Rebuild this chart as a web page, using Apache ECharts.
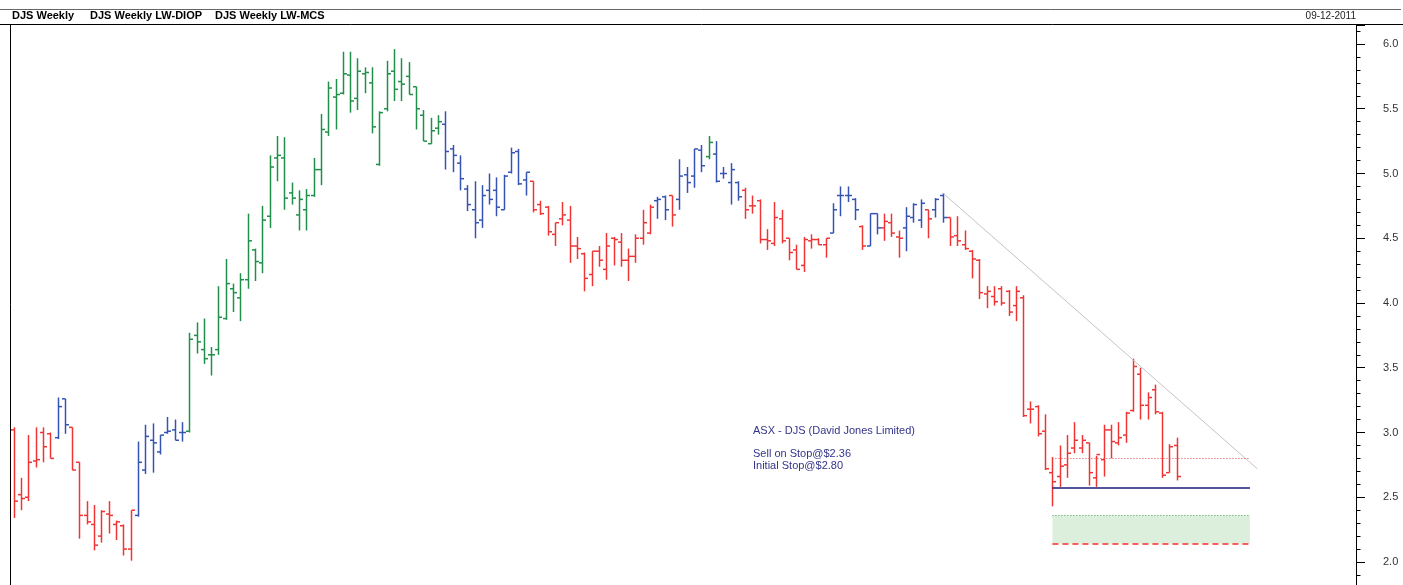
<!DOCTYPE html>
<html><head><meta charset="utf-8">
<script src="https://cdn.jsdelivr.net/npm/echarts@6/dist/echarts.min.js"></script>
<style>html,body{margin:0;padding:0;background:#fff}#c{width:1403px;height:585px}</style>
</head><body><div id="c"></div>
<script>
// Weekly OHLC, DJS, last bar = week of 09-12-2011
const opens = [3.02,2.52,2.50,2.78,3.00,2.99,2.96,3.26,3.04,2.77,2.36,2.29,2.20,2.37,2.29,2.28,2.10,2.36,2.71,2.94,
2.85,3.00,3.02,3.00,3.01,3.75,3.64,3.60,3.64,3.88,4.11,4.04,4.18,4.41,4.31,4.67,5.12,5.12,4.85,4.68,
4.72,4.83,5.03,5.32,5.59,5.62,5.76,5.58,5.77,5.70,5.07,5.50,5.79,5.71,5.75,5.67,5.45,5.23,5.35,5.38,
5.19,5.08,4.88,4.72,4.64,4.87,4.87,4.72,5.01,5.17,4.95,4.94,4.76,4.74,4.53,4.65,4.64,4.44,4.38,4.22,
4.40,4.26,4.50,4.47,4.33,4.36,4.50,4.54,4.79,4.82,4.83,4.80,4.99,4.98,5.18,5.13,5.15,5.00,4.93,4.93,
4.87,4.75,4.79,4.49,4.46,4.65,4.50,4.41,4.29,4.48,4.49,4.45,4.54,4.83,4.83,4.80,4.59,4.44,4.69,4.58,
4.62,4.51,4.58,4.66,4.64,4.72,4.72,4.83,4.66,4.52,4.45,4.40,4.33,4.07,4.05,4.11,4.09,3.98,4.04,3.18,
3.20,3.01,2.69,2.66,2.75,2.88,2.88,2.92,2.65,2.79,3.02,2.92,2.98,3.17,3.45,3.21,3.33,3.15,2.69,2.90];
const highs = [3.04,2.65,2.98,3.04,3.04,3.00,3.27,3.26,3.04,2.77,2.47,2.44,2.40,2.47,2.32,2.29,2.40,2.93,3.06,3.07,
2.98,3.12,3.10,3.08,3.77,3.85,3.88,3.66,4.13,4.34,4.15,4.23,4.69,4.42,4.75,5.14,5.29,5.28,4.93,4.87,
4.88,5.12,5.46,5.71,5.73,5.94,5.94,5.89,5.82,5.82,5.48,5.87,5.96,5.89,5.86,5.67,5.49,5.43,5.45,5.48,
5.22,5.14,4.91,4.94,4.91,5.00,4.97,4.99,5.20,5.19,5.01,4.94,4.79,4.75,4.62,4.78,4.75,4.51,4.39,4.40,
4.44,4.54,4.51,4.54,4.42,4.53,4.72,4.76,4.82,4.83,4.83,5.11,5.05,5.19,5.22,5.29,5.25,5.05,5.08,4.94,
4.89,4.83,4.80,4.57,4.78,4.72,4.50,4.45,4.51,4.53,4.50,4.50,4.77,4.90,4.90,4.81,4.60,4.69,4.69,4.69,
4.69,4.56,4.74,4.77,4.80,4.72,4.81,4.85,4.66,4.67,4.56,4.41,4.34,4.13,4.13,4.13,4.10,4.13,4.06,3.24,
3.21,3.14,2.81,2.90,2.98,3.08,2.98,2.92,2.82,3.06,3.06,3.08,3.16,3.57,3.50,3.31,3.37,3.16,2.91,2.96];
const lows = [2.34,2.40,2.47,2.73,2.77,2.80,2.95,2.99,2.71,2.18,2.29,2.09,2.15,2.22,2.17,2.05,2.01,2.35,2.68,2.69,
2.83,2.99,2.94,2.93,3.00,3.61,3.53,3.44,3.60,3.87,3.93,3.86,4.11,4.17,4.23,4.58,4.94,4.72,4.76,4.56,
4.56,4.82,4.91,5.29,5.34,5.61,5.47,5.49,5.62,5.31,5.06,5.48,5.56,5.56,5.61,5.34,5.25,5.23,5.30,5.03,
5.01,4.87,4.71,4.50,4.58,4.76,4.67,4.72,5.00,4.91,4.83,4.70,4.68,4.52,4.44,4.60,4.31,4.34,4.09,4.13,
4.28,4.18,4.29,4.28,4.17,4.31,4.45,4.53,4.65,4.64,4.59,4.72,4.85,4.89,5.01,5.11,4.93,4.96,4.76,4.79,
4.65,4.69,4.46,4.41,4.44,4.46,4.33,4.26,4.24,4.42,4.45,4.35,4.54,4.67,4.78,4.64,4.41,4.44,4.53,4.48,
4.51,4.35,4.40,4.62,4.58,4.50,4.66,4.62,4.44,4.44,4.41,4.19,4.03,3.96,3.98,3.98,3.90,3.86,3.12,3.07,
2.97,2.71,2.43,2.58,2.65,2.84,2.84,2.59,2.58,2.66,2.80,2.90,2.92,3.16,3.10,3.10,3.14,2.65,2.69,2.63];
const closes = [2.47,2.49,2.77,2.79,2.89,2.80,3.20,3.06,2.71,2.36,2.31,2.13,2.39,2.36,2.31,2.10,2.40,2.77,2.97,2.92,
2.98,3.01,2.94,3.00,3.72,3.70,3.57,3.60,3.89,4.15,4.08,4.18,4.48,4.32,4.64,5.05,5.14,4.81,4.81,4.80,
4.83,5.03,5.34,5.66,5.61,5.77,5.56,5.79,5.78,5.36,5.47,5.77,5.65,5.69,5.61,5.50,5.25,5.33,5.40,5.17,
5.14,4.96,4.76,4.62,4.83,4.80,4.74,4.98,5.16,4.92,5.01,4.72,4.69,4.55,4.62,4.68,4.44,4.42,4.19,4.40,
4.33,4.44,4.49,4.33,4.36,4.50,4.62,4.74,4.80,4.72,4.68,4.98,4.93,5.19,5.06,5.24,4.94,5.00,5.03,4.82,
4.72,4.75,4.49,4.48,4.66,4.48,4.39,4.26,4.49,4.49,4.45,4.50,4.72,4.83,4.83,4.72,4.44,4.69,4.58,4.63,
4.54,4.50,4.67,4.76,4.77,4.65,4.80,4.66,4.51,4.48,4.42,4.34,4.08,4.09,4.01,4.00,3.93,4.09,3.13,3.18,
2.99,2.72,2.62,2.74,2.84,2.94,2.94,2.69,2.83,3.02,2.93,2.96,3.15,3.51,3.21,3.27,3.16,2.67,2.89,2.66];
// LW-MCS trend colouring per bar: R = down, G = up, B = neutral
const trend = ['R','R','R','R','R','R','B','B','R','R','R','R','R','R','R','R','R','B','B','B',
'B','B','B','B','G','G','G','G','G','G','G','G','G','G','G','G','G','G','G','G',
'G','G','G','G','G','G','G','G','G','G','G','G','G','G','G','G','G','G','G','B',
'B','B','B','B','B','B','B','B','B','B','B','R','R','R','R','R','R','R','R','R',
'R','R','R','R','R','R','R','R','B','B','R','B','B','B','B','G','B','B','B','B',
'R','R','R','R','R','R','R','R','R','R','R','R','B','B','B','B','R','B','B','R',
'R','R','B','B','B','R','B','B','R','R','R','R','R','R','R','R','R','R','R','R',
'R','R','R','R','R','R','R','R','R','R','R','R','R','R','R','R','R','R','R','R'];
const trendColors = {R:'#f03434', G:'#1f8f4a', B:'#3553b3'};
const yTicks = {min:1.8224, max:6.1467, step:0.5};
// annotation levels
const peakIdx = 127, peakVal = 4.85, trendEndIdx = 170, trendEndVal = 2.72;
const zoneStart = 142, zoneEnd = 169;
const initialStop = 2.80, supportLow = 2.57, sellStop = 2.36, targetLow = 2.14;

// weekly categories ending 09-12-2011 plus future (empty) weeks
const extraWeeks = 24;
const cats = [];
const last = new Date(Date.UTC(2011, 11, 9));
for (let i = 0; i < opens.length + extraWeeks; i++) {
  const d = new Date(last.getTime() + (i - (opens.length - 1)) * 7 * 86400000);
  cats.push(String(d.getUTCDate()).padStart(2,'0') + '-' + String(d.getUTCMonth()+1).padStart(2,'0') + '-' + d.getUTCFullYear());
}
const ohlc = opens.map((o, i) => [i, o, highs[i], lows[i], closes[i]]);

const chart = echarts.init(document.getElementById('c'), null, {renderer:'canvas'});
const FONT = '"Liberation Sans", Arial, sans-serif';
chart.setOption({
  animation: false,
  backgroundColor: '#fff',
  grid: {left: 10, right: 47, top: 25, bottom: 0, show: false},
  xAxis: {type: 'category', data: cats, show: false, boundaryGap: true},
  yAxis: {
    type: 'value', position: 'right', min: yTicks.min, max: yTicks.max,
    minInterval: yTicks.step, maxInterval: yTicks.step,
    splitLine: {show: false},
    axisLine: {show: true, lineStyle: {color: '#000', width: 1}},
    axisTick: {show: true, length: 9, lineStyle: {color: '#000'}},
    minorTick: {show: true, splitNumber: 5, length: 4.5, lineStyle: {color: '#000'}},
    axisLabel: {margin: 27, fontSize: 11, color: '#333', fontFamily: FONT, showMinLabel: false, showMaxLabel: false,
      formatter: v => v.toFixed(1)}
  },
  series: [{
    type: 'custom',
    data: ohlc,
    clip: true,
    encode: {x: 0, y: [1, 2, 3, 4]},
    renderItem: function (params, api) {
      const i = api.value(0);
      const pH = api.coord([i, api.value(2)]);
      const pL = api.coord([i, api.value(3)]);
      const pO = api.coord([i, api.value(1)]);
      const pC = api.coord([i, api.value(4)]);
      const x = Math.round(pH[0]) + 0.5;
      const color = trendColors[trend[params.dataIndex]];
      const st = {stroke: color, lineWidth: 1.5};
      return {type: 'group', children: [
        {type: 'line', shape: {x1: x, y1: pH[1], x2: x, y2: pL[1]}, style: st},
        {type: 'line', shape: {x1: x - 3.5, y1: pO[1], x2: x, y2: pO[1]}, style: st},
        {type: 'line', shape: {x1: x, y1: pC[1], x2: x + 3.5, y2: pC[1]}, style: st}
      ]};
    }
  }, {
    type: 'line', data: [], symbol: 'none', silent: true,
    markArea: {silent: true, itemStyle: {color: '#dcefdc'},
      data: [[{coord: [zoneStart, sellStop]}, {coord: [zoneEnd, targetLow]}]]},
    markLine: {silent: true, symbol: ['none', 'none'], label: {show: false},
      data: [
        [{coord: [peakIdx, peakVal], lineStyle: {color: '#c4c4c4', width: 1, type: 'solid'}}, {coord: [trendEndIdx, trendEndVal]}],
        [{coord: [zoneStart, initialStop], lineStyle: {color: '#e04848', width: 1, type: [1, 2]}}, {coord: [zoneEnd, initialStop]}],
        [{coord: [zoneStart, supportLow], lineStyle: {color: '#1b1b78', width: 1.5, type: 'solid'}}, {coord: [zoneEnd, supportLow]}],
        [{coord: [zoneStart, sellStop], lineStyle: {color: '#3c9c50', width: 1, type: [1, 2]}}, {coord: [zoneEnd, sellStop]}],
        [{coord: [zoneStart, targetLow], lineStyle: {color: '#ff2a2a', width: 1.5, type: [6, 4]}}, {coord: [zoneEnd, targetLow]}]
      ]}
  }],
  graphic: [
    {type: 'line', shape: {x1: 0, y1: 9.5, x2: 1401, y2: 9.5}, style: {stroke: '#666', lineWidth: 1}, z: 100},
    {type: 'line', shape: {x1: 0, y1: 24.5, x2: 1403, y2: 24.5}, style: {stroke: '#000', lineWidth: 1}, z: 100},
    {type: 'line', shape: {x1: 10.5, y1: 24.5, x2: 10.5, y2: 585}, style: {stroke: '#000', lineWidth: 1}, z: 100},
    {type: 'text', x: 12, y: 16, style: {text: 'DJS Weekly', font: 'bold 11px ' + FONT, fill: '#000', verticalAlign: 'middle'}, z: 100},
    {type: 'text', x: 90, y: 16, style: {text: 'DJS Weekly LW-DIOP', font: 'bold 11px ' + FONT, fill: '#000', verticalAlign: 'middle'}, z: 100},
    {type: 'text', x: 215, y: 16, style: {text: 'DJS Weekly LW-MCS', font: 'bold 11px ' + FONT, fill: '#000', verticalAlign: 'middle'}, z: 100},
    {type: 'text', x: 1356, y: 16, style: {text: '09-12-2011', font: '10px ' + FONT, fill: '#222', align: 'right', verticalAlign: 'middle'}, z: 100},
    {type: 'text', x: 753, y: 431, style: {text: 'ASX - DJS (David Jones Limited)', font: '11px ' + FONT, fill: '#34348c', verticalAlign: 'middle'}, z: 100},
    {type: 'text', x: 753, y: 454, style: {text: 'Sell on Stop@$2.36', font: '11px ' + FONT, fill: '#34348c', verticalAlign: 'middle'}, z: 100},
    {type: 'text', x: 753, y: 466, style: {text: 'Initial Stop@$2.80', font: '11px ' + FONT, fill: '#34348c', verticalAlign: 'middle'}, z: 100}
  ]
});
</script></body></html>
